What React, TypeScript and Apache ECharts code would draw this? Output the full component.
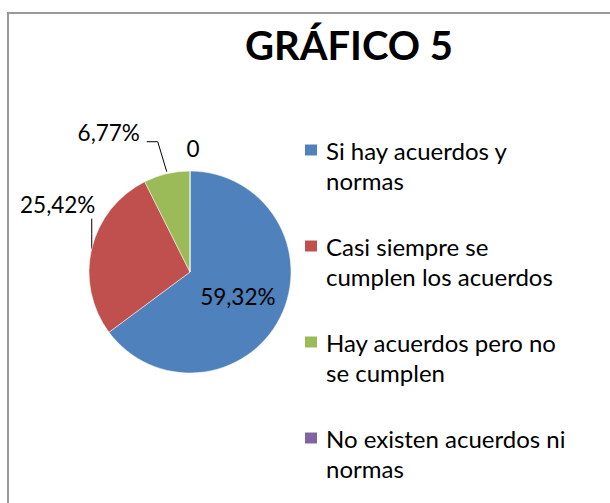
import React, { useEffect, useRef } from "react";
import * as echarts from "echarts";

const categories = [
  "Si hay acuerdos y normas",
  "Casi siempre se cumplen los acuerdos",
  "Hay acuerdos pero no se cumplen",
  "No existen acuerdos ni normas",
];
const legendLabels = [
  "Si hay acuerdos y\nnormas",
  "Casi siempre se\ncumplen los acuerdos",
  "Hay acuerdos pero no\nse cumplen",
  "No existen acuerdos ni\nnormas",
];
const values = [59.32, 25.42, 6.77, 0];
const colors = ["#4F81BD", "#C0504D", "#9BBB59", "#8064A2"];
const titleText = "GRÁFICO 5";

const FONT = "Lato";
const CX = 190;
const CY = 272;
const R = 101;

function fmt(v: number) {
  return v === 0 ? "0" : v.toFixed(2).replace(".", ",") + "%";
}

// anchor point on the rim at the middle of a slice (fallback if library does not provide it)
function rimPoint(i: number) {
  const total = values.reduce((a, b) => a + b, 0);
  let before = 0;
  for (let k = 0; k < i; k++) before += values[k];
  const mid = (before + values[i] / 2) / total;
  const t = mid * Math.PI * 2;
  return [CX + R * Math.sin(t), CY - R * Math.cos(t)];
}

export default function App() {
  const ref = useRef<HTMLDivElement>(null);
  useEffect(() => {
    if (!ref.current) return;
    const chart = echarts.init(ref.current, undefined, { renderer: "svg" });
    const option: any = {
      animation: false,
      backgroundColor: "#fff",
      title: {
        text: titleText,
        left: 344,
        top: 20,
        textAlign: "center",
        textStyle: { fontFamily: FONT, fontWeight: "bold", fontSize: 40, color: "#000" },
      },
      graphic: [
        {
          type: "rect",
          shape: { x: 8, y: 13, width: 700, height: 600 },
          style: { fill: "none", stroke: "#999", lineWidth: 2 },
          silent: true,
        },
      ],
      legend: {
        orient: "vertical",
        left: 303,
        top: 135,
        padding: 0,
        icon: "path://M0,0H14V13H0Z M0,43L0,43",
        itemWidth: 14,
        itemHeight: 43,
        itemGap: 36,
        selectedMode: false,
        formatter: (name: string) => legendLabels[categories.indexOf(name)],
        textStyle: {
          fontFamily: FONT,
          fontSize: 24,
          lineHeight: 30,
          color: "#000",
          padding: [0, 0, 0, 3],
        },
        data: categories,
      },
      series: [
        {
          type: "pie",
          center: [CX, CY],
          radius: R,
          startAngle: 90,
          clockwise: true,
          avoidLabelOverlap: false,
          itemStyle: { borderColor: "#fff", borderWidth: 0.5 },
          label: {
            show: true,
            position: "outside",
            fontFamily: FONT,
            fontSize: 22.5,
            color: "#000",
            formatter: (p: any) => fmt(p.value),
          },
          labelLine: { show: true, length: 10, length2: 10, lineStyle: { color: "#000", width: 1 } },
          labelLayout: (p: any) => {
            const i = p.dataIndex;
            if (i === 0) return {};
            const a = p.labelLinePoints && p.labelLinePoints[0] ? p.labelLinePoints[0] : rimPoint(i);
            const ax = a[0];
            const ay = a[1];
            if (i === 1) {
              return {
                x: ax - 34,
                y: ay - 44,
                align: "center",
                verticalAlign: "middle",
                labelLinePoints: [
                  [ax, ay],
                  [ax, ay - 15],
                  [ax, ay - 30],
                ],
              };
            }
            if (i === 2) {
              return {
                x: ax - 58,
                y: ay - 41,
                align: "center",
                verticalAlign: "middle",
                labelLinePoints: [
                  [ax, ay - 2],
                  [ax - 9, ay - 32],
                  [ax - 20, ay - 32],
                ],
              };
            }
            return { x: ax + 3, y: ay - 23, align: "center", verticalAlign: "middle" };
          },
          data: categories.map((c, i) => ({
            name: c,
            value: values[i],
            itemStyle: { color: colors[i] },
            label: i === 0 ? { position: "inside" } : undefined,
            labelLine: i === 3 ? { show: false } : undefined,
          })),
        },
      ],
    };
    chart.setOption(option);
    return () => chart.dispose();
  }, []);
  return (
    <div
      ref={ref}
      style={{ position: "fixed", left: 0, top: 0, width: 610, height: 503, background: "#fff" }}
    />
  );
}
